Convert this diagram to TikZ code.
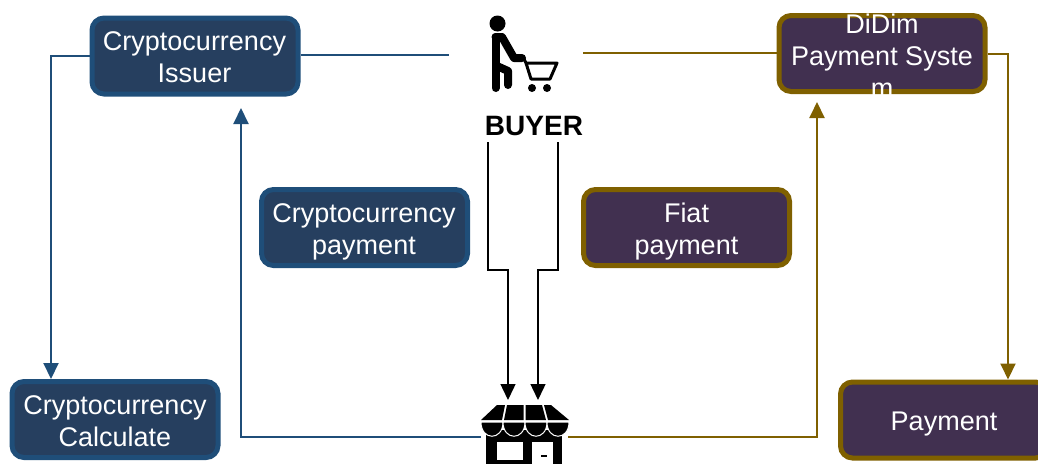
\documentclass[tikz,border=0pt]{standalone}
\usepackage{fontspec}
\setmainfont{Liberation Sans}
\usetikzlibrary{arrows.meta}
\definecolor{bluefill}{HTML}{263F5F}
\definecolor{blueline}{HTML}{1F4E79}
\definecolor{purplefill}{HTML}{413050}
\definecolor{brownline}{HTML}{7F6000}
\tikzset{
  x=1pt,y=-1pt,
  boxbase/.style={rounded corners=12pt,inner sep=0pt,line width=5pt,minimum width=206pt,minimum height=76pt},
  bluebox/.style={boxbase,draw=blueline,fill=bluefill},
  purplebox/.style={boxbase,draw=brownline,fill=purplefill},
  boxtext/.style={inner sep=0pt,text=white,align=center,font=\fontsize{27}{32}\selectfont},
  blueconn/.style={draw=blueline,line width=2pt},
  brownconn/.style={draw=brownline,line width=2pt},
  blackconn/.style={draw=black,line width=1.4pt},
  tip/.style={-{Triangle[length=16pt,width=15pt]}},
  ink/.style={fill=black,draw=none},
  limb/.style={draw=black,line width=8pt,line cap=round,line join=round},
  cartline/.style={draw=black,line width=3pt,line join=round},
  scallop/.style={fill=black,draw=white,line width=1pt},
}
\begin{document}
\begin{tikzpicture}
\useasboundingbox (0,0) rectangle (1038,464);
\clip (0,0) rectangle (1038,464);
% boxes
\node[bluebox] (issuer) at (195,56) {};
\node[bluebox] (cpay) at (364.5,227.5) {};
\node[bluebox] (calc) at (115,419.5) {};
\node[purplebox] (didim) at (882,53.5) {};
\node[purplebox] (fiat) at (686.5,227.5) {};
\node[purplebox,minimum width=207pt] (pay) at (944,420) {};
\node[boxtext] (issuertext) at (194.5,57) {Cryptocurrency\\Issuer};
\node[boxtext] (cpaytext) at (364,232) {Cryptocurrency\\payment};
\node[boxtext] (calctext) at (115,421) {Cryptocurrency\\Calculate};
\node[boxtext] (didimtext) at (882,55.5) {DiDim\\Payment Syste\\m};
\node[boxtext] (fiattext) at (686.5,232) {Fiat\\payment};
\node[boxtext] (paytext) at (944,424) {Payment};
% named free ends
\coordinate (buyerW) at (449,55);
\coordinate (buyerE) at (583,53);
\coordinate (buyerSL) at (488,142);
\coordinate (buyerSR) at (558,142);
\coordinate (shopNL) at (508,400);
\coordinate (shopNR) at (538,400);
\coordinate (shopW) at (481,437);
\coordinate (shopE) at (568,437);
\coordinate (issuerIn) at (241,108);
\coordinate (didimIn) at (817,102);
% connectors
\draw[blueconn] (issuer.east |- buyerW) -- (buyerW);
\draw[brownconn] (buyerE) -- (didim.west |- buyerE);
\draw[blueconn,tip] (issuer.west) -- (51,56) -- (calc.north -| 51,0);
\draw[brownconn,tip] (didim.east) -- (1008,53.5) -- (pay.north -| 1008,0);
\draw[blueconn,tip] (shopW) -- (issuerIn |- shopW) -- (issuerIn);
\draw[brownconn,tip] (shopE) -- (didimIn |- shopE) -- (didimIn);
\draw[blackconn,tip] (buyerSL) -- (488,270) -- (508,270) -- (shopNL);
\draw[blackconn,tip] (buyerSR) -- (558,270) -- (538,270) -- (shopNR);
% buyer icon
\fill[ink] (497.5,23.5) circle (8);
\draw[limb] (495.5,37) -- (495.5,88);
\draw[limb] (495.5,37) -- (502,37) -- (514,58) -- (522,58);
\draw[limb] (497,66) -- (508,71) -- (508,85);
\draw[cartline] (523,57) -- (526,63) -- (557,63) -- (550,79) -- (531,79) -- (526,63);
\fill[ink] (532,88) circle (4);
\fill[ink] (547,88) circle (4);
\node[inner sep=0pt,font=\fontsize{28}{30}\selectfont\bfseries] (buyer) at (534,126) {BUYER};
% shop icon
\fill[ink] (486,430) rectangle (562,464);
\fill[white] (497,442) rectangle (523,460);
\fill[white] (532,442) rectangle (553,464);
\fill[ink] (541,454.5) rectangle (547,456.5);
\fill[ink] (497,405) -- (505,405) -- (502,420) -- (481,420) -- cycle;
\fill[ink] (507,405) -- (523.5,405) -- (523.5,420) -- (504,420) -- cycle;
\fill[ink] (525.5,405) -- (542,405) -- (546,420) -- (525.5,420) -- cycle;
\fill[ink] (544,405) -- (551,405) -- (569,420) -- (548,420) -- cycle;
\draw[scallop] (481,422) -- (503,422) .. controls (503,441) and (481,441) .. cycle;
\draw[scallop] (503,422) -- (525,422) .. controls (525,441) and (503,441) .. cycle;
\draw[scallop] (525,422) -- (547,422) .. controls (547,441) and (525,441) .. cycle;
\draw[scallop] (547,422) -- (569,422) .. controls (569,441) and (547,441) .. cycle;
\end{tikzpicture}
\end{document}
